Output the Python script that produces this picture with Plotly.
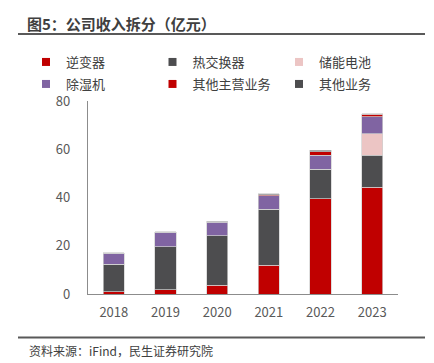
import plotly.graph_objects as go

years = ["2018", "2019", "2020", "2021", "2022", "2023"]
inverter = [1.0, 1.7, 3.6, 11.9, 39.5, 44.2]
heat_exchanger = [11.4, 17.9, 20.6, 23.2, 12.2, 13.3]
storage = [0, 0, 0, 0, 0, 8.9]
dehumidifier = [4.5, 6.0, 5.6, 5.6, 5.9, 7.1]
other_main = [0, 0, 0.2, 0.5, 1.4, 1.0]
other = [0.2, 0.2, 0.2, 0.3, 0.5, 0.2]

series = [
    ("逆变器", inverter, "#C00000", "legend"),
    ("热交换器", heat_exchanger, "#4D4D4F", "legend"),
    ("储能电池", storage, "#ECC5C4", "legend"),
    ("除湿机", dehumidifier, "#8064A2", "legend2"),
    ("其他主营业务", other_main, "#C00000", "legend2"),
    ("其他业务", other, "#4D4D4F", "legend2"),
]

FONT = "Noto Sans CJK SC"
fig = go.Figure()
for name, vals, color, lg in series:
    fig.add_trace(go.Bar(
        x=years, y=vals, name=name, marker_color=color,
        marker_line=dict(color="#D0D0D0", width=0.7),
        showlegend=False, legendgroup=name,
    ))
for name, vals, color, lg in series:
    fig.add_trace(go.Scatter(
        x=[None], y=[None], mode="markers", name=name, legendgroup=name,
        marker=dict(symbol="square", size=8, color=color), legend=lg,
        showlegend=True,
    ))

L, R, T, B = 88, 36, 101, 69
W, H = 434, 363
pw, ph = W - L - R, H - T - B

def px(x):
    return (x - L) / pw

def py(y):
    return (H - B - y) / ph

legend_common = dict(
    orientation="h", xanchor="left", yanchor="middle",
    entrywidth=81.5, entrywidthmode="pixels",
    font=dict(family=FONT, size=13, color="#404040"),
    bgcolor="rgba(0,0,0,0)", itemclick=False, itemdoubleclick=False,
    tracegroupgap=0,
)

fig.update_layout(
    width=W, height=H,
    margin=dict(l=L, r=R, t=T, b=B, autoexpand=False),
    paper_bgcolor="white", plot_bgcolor="white",
    barmode="stack", bargap=0.59,
    font=dict(family=FONT, size=13, color="#595959"),
    title=dict(
        text="<b>图5：公司收入拆分（亿元）</b>",
        x=27 / W, xref="container", xanchor="left",
        y=1 - 25 / H, yref="container", yanchor="middle",
        font=dict(family=FONT, size=15, color="#404040"),
    ),
    legend=dict(x=px(26), y=py(62), **legend_common),
    legend2=dict(x=px(26), y=py(84), **legend_common),
    xaxis=dict(
        showline=True, linecolor="#8C8C8C", linewidth=1.2,
        ticks="", showgrid=False,
        tickfont=dict(family=FONT, size=13, color="#595959"),
        ticklabelstandoff=6,
    ),
    yaxis=dict(
        range=[0, 80], tickvals=[0, 20, 40, 60, 80],
        showline=True, linecolor="#8C8C8C", linewidth=1.2,
        ticks="", showgrid=False, zeroline=False,
        tickfont=dict(family=FONT, size=13, color="#595959"),
        ticklabelstandoff=14,
    ),
    shapes=[
        dict(type="line", xref="paper", yref="paper",
             x0=px(18), x1=px(425), y0=py(34), y1=py(34),
             line=dict(color="#595959", width=2)),
        dict(type="line", xref="paper", yref="paper",
             x0=px(18), x1=px(425), y0=py(337.5), y1=py(337.5),
             line=dict(color="#595959", width=1.8)),
    ],
    annotations=[
        dict(text="资料来源：iFind，民生证券研究院", xref="paper", yref="paper",
             x=px(27), y=py(350), xanchor="left", yanchor="middle",
             showarrow=False,
             font=dict(family=FONT, size=12, color="#404040")),
    ],
)

fig.write_html(
    "out.html",
    config={"displayModeBar": False},
    post_script="document.body.style.margin='0';document.body.style.overflow='hidden';",
)
